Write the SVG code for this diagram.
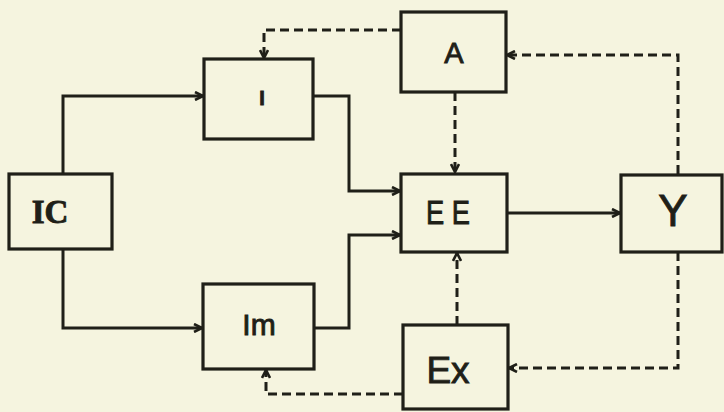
<svg xmlns="http://www.w3.org/2000/svg" width="724" height="412" viewBox="0 0 724 412">
<defs>
<style>
.box{fill:none;stroke:#1f1f18;stroke-width:3.2}
.c{fill:none;stroke:#1f1f18;stroke-width:3;marker-end:url(#ah)}
.d{stroke-dasharray:9 5}
.t{font-family:"Liberation Sans","DejaVu Sans",sans-serif;fill:#1f1f18;stroke:#1f1f18;stroke-width:0.9;text-anchor:middle}
</style>
<marker id="ah" viewBox="0 0 10 10" refX="9" refY="5" markerWidth="10" markerHeight="10" markerUnits="userSpaceOnUse" orient="auto">
<path d="M1,1 L9,5 L1,9" fill="none" stroke="#1f1f18" stroke-width="2.6"/>
</marker>
</defs>
<rect width="724" height="412" fill="#f5f4df"/>
<g id="connectors">
<path class="c" d="M63,174 V96 H203"/>
<path class="c" d="M63,249 V328 H202"/>
<path class="c" d="M313,96 H349 V191 H400"/>
<path class="c" d="M314,328 H349 V235 H400"/>
<path class="c" d="M507,213 H620"/>
<path class="c d" d="M455,92 V172"/>
<path class="c d" d="M457,325 V253"/>
<path class="c d" d="M678,174 V55 H507"/>
<path class="c d" d="M678,252 V368 H509"/>
<path class="c d" d="M401,30 H264 V58"/>
<path class="c d" d="M403,394 H266 V370"/>
</g>
<g id="IC"><rect class="box" x="9" y="174" width="103" height="75"/><text class="t" x="50" y="223" font-size="33" font-weight="bold" style="font-family:'Liberation Serif',serif">IC</text></g>
<g id="I"><rect class="box" x="204" y="59" width="109" height="80"/><text class="t" x="262" y="105" font-size="20" font-weight="bold">I</text></g>
<g id="A"><rect class="box" x="401" y="12" width="105" height="80"/><text class="t" x="454" y="63" font-size="29">A</text></g>
<g id="EE"><rect class="box" x="401" y="174" width="106" height="78"/><text class="t" x="448" y="224" font-size="34" textLength="44" lengthAdjust="spacingAndGlyphs">E E</text></g>
<g id="Y"><rect class="box" x="621" y="175" width="101" height="77"/><text class="t" x="673" y="226" font-size="44">Y</text></g>
<g id="Im"><rect class="box" x="203" y="284" width="111" height="85"/><text class="t" x="259" y="335" font-size="30">Im</text></g>
<g id="Ex"><rect class="box" x="403" y="325" width="105" height="84"/><text class="t" x="448" y="383" font-size="37">Ex</text></g>
</svg>
